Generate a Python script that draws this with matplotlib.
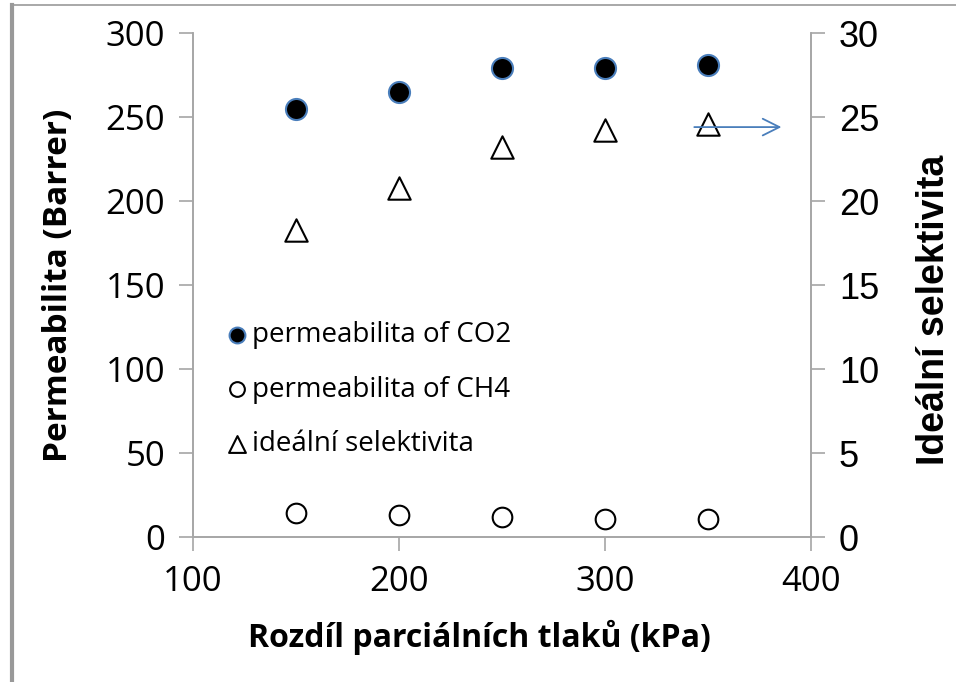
import matplotlib.pyplot as plt
from matplotlib.lines import Line2D

# data
tlak = [150, 200, 250, 300, 350]
perm_co2 = [255, 265, 279, 279, 281]
perm_ch4 = [14, 13, 12, 11, 11]
selektivita = [18.3, 20.8, 23.2, 24.2, 24.6]

x_ticks = [100, 200, 300, 400]
y_ticks = [0, 50, 100, 150, 200, 250, 300]
y2_ticks = [0, 5, 10, 15, 20, 25, 30]

gray = '#a6a6a6'
blue = '#4a7ebb'

fig = plt.figure(figsize=(9.56, 6.82), dpi=100)
ax = fig.add_axes([0.2019, 0.2126, 0.6464, 0.739])
ax2 = ax.twinx()

h1 = ax.scatter(tlak, perm_co2, s=230, c='black', edgecolors=blue, linewidths=1.5, zorder=3)
h2 = ax.scatter(tlak, perm_ch4, s=200, facecolors='white', edgecolors='black', linewidths=1.5, zorder=3)
h3 = ax2.scatter(tlak, selektivita, s=260, marker='^', facecolors='white', edgecolors='black', linewidths=1.5, zorder=3)

ax.set_xlim(100, 400)
ax.set_ylim(0, 300)
ax2.set_ylim(0, 30)
ax.set_xticks(x_ticks)
ax.set_yticks(y_ticks)
ax2.set_yticks(y2_ticks)

for a in (ax, ax2):
    a.spines['top'].set_visible(False)
    for s in ('left', 'right', 'bottom'):
        a.spines[s].set_color(gray)
        a.spines[s].set_linewidth(1.2)
    a.tick_params(color=gray, length=10, width=1.2)

ax.tick_params(axis='y', labelsize=25, pad=10)
ax.tick_params(axis='x', labelsize=25, pad=10)
for t in ax.get_yticklabels() + ax.get_xticklabels():
    t.set_family('Open Sans')
ax2.tick_params(axis='y', labelsize=26, pad=10)
for t in ax2.get_yticklabels():
    t.set_family('Liberation Sans')

ax.set_ylabel('Permeabilita (Barrer)', fontsize=24, fontweight='bold', family='Open Sans', labelpad=22)
ax.set_xlabel('Rozdíl parciálních tlaků (kPa)', fontsize=23, fontweight='bold', family='Open Sans')
ax.xaxis.set_label_coords(0.463, -0.165)
ax2.set_ylabel('Ideální selektivita', fontsize=27, fontweight='bold', family='Liberation Sans')
ax2.yaxis.set_label_coords(1.17, 0.45)

leg = ax.legend([h1, h2, h3], ['permeabilita of CO2', 'permeabilita of CH4', 'ideální selektivita'],
                loc='upper left', bbox_to_anchor=(0.03, 0.45), frameon=False,
                prop={'family': 'Open Sans', 'size': 20}, handletextpad=0.05,
                labelspacing=0.95, markerscale=0.75, handlelength=1.0, borderaxespad=0)

# arrow pointing to the right axis
ax2.annotate('', xy=(387, 24.4), xytext=(342, 24.4),
             arrowprops=dict(arrowstyle='->', color=blue, lw=1.3, mutation_scale=30))

# frame of the pasted picture
fig.add_artist(Line2D([0.0125, 1.0], [0.993, 0.993], color='#999999', lw=1.2))
fig.add_artist(Line2D([0.0125, 0.0125], [0.0, 0.993], color='#999999', lw=3))

fig.savefig('out.png', dpi=100)
